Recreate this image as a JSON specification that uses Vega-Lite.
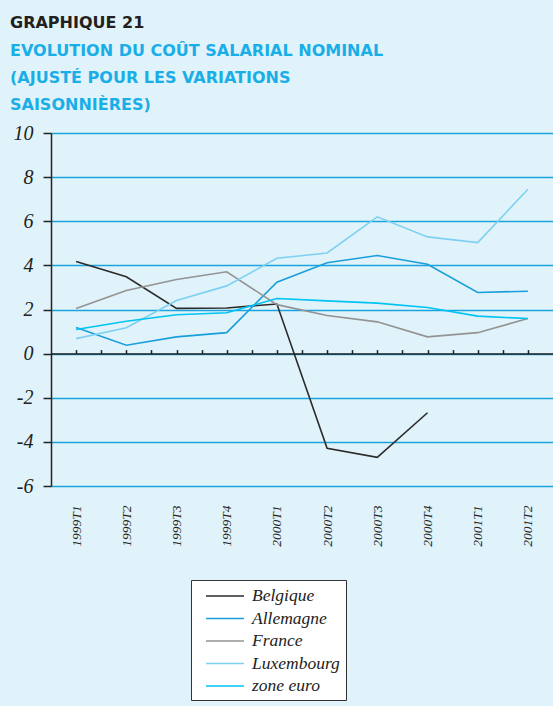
{
  "$schema": "https://vega.github.io/schema/vega-lite/v6.json",
  "width": 502,
  "height": 353,
  "autosize": {"type": "none"},
  "padding": {"left": 51, "top": 133, "right": 0, "bottom": 220},
  "background": "#e0f3fa",
  "config": {"view": {"stroke": null}},
  "title": {
    "text": "GRAPHIQUE 21",
    "subtitle": ["EVOLUTION DU COÛT SALARIAL NOMINAL", "(AJUSTÉ POUR LES VARIATIONS", "SAISONNIÈRES)"],
    "anchor": "start",
    "frame": "group",
    "dx": -41,
    "font": "DejaVu Sans",
    "fontSize": 16,
    "fontWeight": "bold",
    "color": "#231f20",
    "subtitleFont": "DejaVu Sans",
    "subtitleFontSize": 16,
    "subtitleFontWeight": "bold",
    "subtitleColor": "#1aaee8",
    "subtitleLineHeight": 27,
    "subtitlePadding": 12,
    "offset": 10
  },
  "data": {
    "values": [
      {"pays": "Belgique", "periode": "1999T1", "valeur": 4.18},
      {"pays": "Belgique", "periode": "1999T2", "valeur": 3.48},
      {"pays": "Belgique", "periode": "1999T3", "valeur": 2.05},
      {"pays": "Belgique", "periode": "1999T4", "valeur": 2.07},
      {"pays": "Belgique", "periode": "2000T1", "valeur": 2.25},
      {"pays": "Belgique", "periode": "2000T2", "valeur": -4.29},
      {"pays": "Belgique", "periode": "2000T3", "valeur": -4.7},
      {"pays": "Belgique", "periode": "2000T4", "valeur": -2.68},
      {"pays": "Allemagne", "periode": "1999T1", "valeur": 1.18},
      {"pays": "Allemagne", "periode": "1999T2", "valeur": 0.38},
      {"pays": "Allemagne", "periode": "1999T3", "valeur": 0.76},
      {"pays": "Allemagne", "periode": "1999T4", "valeur": 0.95},
      {"pays": "Allemagne", "periode": "2000T1", "valeur": 3.24},
      {"pays": "Allemagne", "periode": "2000T2", "valeur": 4.12},
      {"pays": "Allemagne", "periode": "2000T3", "valeur": 4.45},
      {"pays": "Allemagne", "periode": "2000T4", "valeur": 4.05},
      {"pays": "Allemagne", "periode": "2001T1", "valeur": 2.77},
      {"pays": "Allemagne", "periode": "2001T2", "valeur": 2.83},
      {"pays": "France", "periode": "1999T1", "valeur": 2.05},
      {"pays": "France", "periode": "1999T2", "valeur": 2.86},
      {"pays": "France", "periode": "1999T3", "valeur": 3.36},
      {"pays": "France", "periode": "1999T4", "valeur": 3.71},
      {"pays": "France", "periode": "2000T1", "valeur": 2.22},
      {"pays": "France", "periode": "2000T2", "valeur": 1.73},
      {"pays": "France", "periode": "2000T3", "valeur": 1.44},
      {"pays": "France", "periode": "2000T4", "valeur": 0.76},
      {"pays": "France", "periode": "2001T1", "valeur": 0.95},
      {"pays": "France", "periode": "2001T2", "valeur": 1.59},
      {"pays": "Luxembourg", "periode": "1999T1", "valeur": 0.68},
      {"pays": "Luxembourg", "periode": "1999T2", "valeur": 1.17},
      {"pays": "Luxembourg", "periode": "1999T3", "valeur": 2.41},
      {"pays": "Luxembourg", "periode": "1999T4", "valeur": 3.07},
      {"pays": "Luxembourg", "periode": "2000T1", "valeur": 4.32},
      {"pays": "Luxembourg", "periode": "2000T2", "valeur": 4.56},
      {"pays": "Luxembourg", "periode": "2000T3", "valeur": 6.2},
      {"pays": "Luxembourg", "periode": "2000T4", "valeur": 5.29},
      {"pays": "Luxembourg", "periode": "2001T1", "valeur": 5.03},
      {"pays": "Luxembourg", "periode": "2001T2", "valeur": 7.45},
      {"pays": "zone euro", "periode": "1999T1", "valeur": 1.09},
      {"pays": "zone euro", "periode": "1999T2", "valeur": 1.47},
      {"pays": "zone euro", "periode": "1999T3", "valeur": 1.76},
      {"pays": "zone euro", "periode": "1999T4", "valeur": 1.85},
      {"pays": "zone euro", "periode": "2000T1", "valeur": 2.5},
      {"pays": "zone euro", "periode": "2000T2", "valeur": 2.39},
      {"pays": "zone euro", "periode": "2000T3", "valeur": 2.29},
      {"pays": "zone euro", "periode": "2000T4", "valeur": 2.09},
      {"pays": "zone euro", "periode": "2001T1", "valeur": 1.7},
      {"pays": "zone euro", "periode": "2001T2", "valeur": 1.59}
    ]
  },
  "layer": [
    {
      "mark": {"type": "line", "strokeWidth": 1.6},
      "encoding": {
        "x": {
          "field": "periode",
          "type": "ordinal",
          "scale": {"type": "point", "padding": 0.5, "domain": ["1999T1", "1999T2", "1999T3", "1999T4", "2000T1", "2000T2", "2000T3", "2000T4", "2001T1", "2001T2"]},
          "axis": {
            "orient": "bottom",
            "labelAngle": 270,
            "labelAlign": "right",
            "labelBaseline": "middle",
            "labelPadding": 19,
            "ticks": false,
            "tickSize": 0,
            "domain": false,
            "grid": false,
            "title": null,
            "labelFont": "Liberation Serif",
            "labelFontStyle": "italic",
            "labelFontSize": 13.5,
            "labelColor": "#222222"
          }
        },
        "y": {
          "field": "valeur",
          "type": "quantitative",
          "scale": {"domain": [-6, 10], "nice": false},
          "axis": {
            "values": [-6, -4, -2, 0, 2, 4, 6, 8, 10],
            "labelExpr": "toString(datum.value)",
            "grid": true,
            "gridColor": "#1aa3dd",
            "gridWidth": 1.5,
            "domainColor": "#222222",
            "domainWidth": 1.5,
            "tickColor": "#222222",
            "tickWidth": 1.5,
            "tickSize": 8,
            "labelFont": "Liberation Serif",
            "labelFontStyle": "italic",
            "labelFontSize": 20,
            "labelColor": "#222222",
            "labelPadding": 10,
            "title": null
          }
        },
        "color": {
          "field": "pays",
          "type": "nominal",
          "scale": {
            "domain": ["Belgique", "Allemagne", "France", "Luxembourg", "zone euro"],
            "range": ["#2b2b2b", "#1a9fdc", "#939393", "#7ed0f3", "#00c3f5"]
          },
          "legend": {
            "orient": "none",
            "legendX": 140,
            "legendY": 447,
            "title": null,
            "direction": "vertical",
            "symbolType": "M-2,0H2",
            "symbolSize": 361,
            "symbolStrokeWidth": 1.6,
            "symbolOffset": 18,
            "labelFont": "Liberation Serif",
            "labelFontStyle": "italic",
            "labelFontSize": 17.5,
            "labelColor": "#222222",
            "labelOffset": 16.5,
            "padding": 5.5,
            "rowPadding": 3.5,
            "strokeColor": "#333333",
            "fillColor": "#ffffff"
          }
        }
      }
    },
    {
      "mark": {"type": "rule", "opacity": 0},
      "encoding": {
        "x": {
          "datum": 1,
          "type": "quantitative",
          "scale": {"domain": [0.5, 10.5], "nice": false, "zero": false},
          "axis": {
            "orient": "bottom",
            "values": [1, 1.5, 2, 2.5, 3, 3.5, 4, 4.5, 5, 5.5, 6, 6.5, 7, 7.5, 8, 8.5, 9, 9.5, 10],
            "offset": -132.4,
            "labels": false,
            "grid": false,
            "title": null,
            "domain": true,
            "domainColor": "#222222",
            "domainWidth": 1.5,
            "ticks": true,
            "tickColor": "#222222",
            "tickWidth": 1.5,
            "tickSize": -4,
            "zindex": 2
          }
        }
      }
    }
  ],
  "resolve": {"scale": {"x": "independent"}}
}
